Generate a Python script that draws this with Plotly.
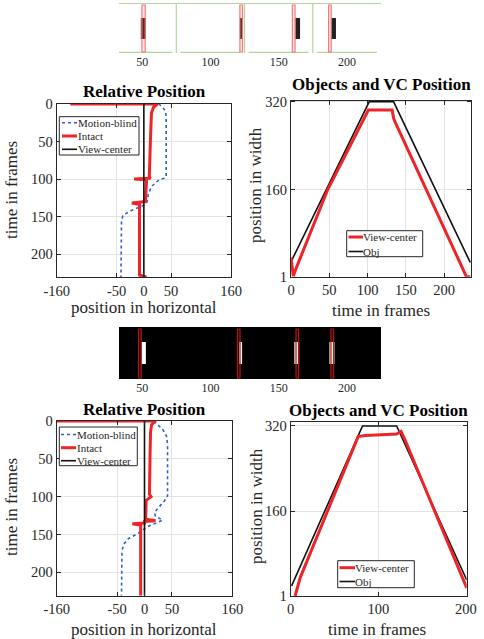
import plotly.graph_objects as go

W, H = 484, 639
FONT = "Liberation Serif, Times New Roman, serif"
RED = "#ee2428"
BLUE = "#2f5fc9"
BLACK = "#111111"
AX = "#262626"
GRID = "#e3e3e3"
GREEN = "#b3d59b"

# ---------------- data ----------------
strip_ticks = [50, 100, 150, 200]
strip_range = [33, 225]
s1_separators = [75, 125, 175]
# top strip (white frames): object boxes and view-center boxes
s1_obj_x0 = [49.0, 121.6, 162.2, 188.5]
s1_obj_x1 = [52.7, 123.5, 165.7, 192.0]
s1_vc_x0 = [49.8, 121.6, 160.0, 186.6]
s1_vc_x1 = [52.2, 123.5, 162.0, 188.5]
# bottom strip (black frames)
s2_obj_x0 = [49.3, 121.0, 161.5, 187.2]
s2_obj_x1 = [52.7, 123.2, 165.0, 190.9]
s2_vc_x0 = [47.3, 119.8, 162.7, 188.3]
s2_vc_x1 = [49.3, 121.7, 164.6, 190.3]

# Relative position, sequence 1 (x = horizontal position, t = frame)
rel1_intact_x = [-135, 25, 18, 14, 12, 10, 12, -18, 5, 3, -22, -8, -8, 5]
rel1_intact_t = [0, 0, 4, 12, 50, 97, 99, 100, 101, 130, 132, 134, 228, 231]
rel1_blind_x = [27, 33, 40, 41, 41, 38, 28, 14, 8, 6, 0, -20, -38, -41, -42]
rel1_blind_t = [0, 3, 10, 20, 97, 99, 101, 110, 121, 130, 135, 141, 148, 155, 231]
rel1_vc_x = [0, 0]
rel1_vc_t = [0, 231]

# Objects and VC position, sequence 1
pos1_vc_t = [0, 2, 3, 5, 10, 48, 100, 101, 132, 134, 136, 229, 234]
pos1_vc_y = [36, 10, 2, 10, 28, 160, 304, 305, 305, 290, 283, 1, 1]
pos1_obj_t = [0, 102, 134, 234]
pos1_obj_y = [28, 320, 320, 27]

# Relative position, sequence 2
rel2_intact_x = [-160, 20, 13, 11, 10, 9, 12, 3, 2, 20, 0, 0, -22, -7, -7]
rel2_intact_t = [0, 0, 5, 15, 50, 97, 100, 105, 130, 132, 133, 135, 136, 138, 231]
rel2_blind_x = [17, 24, 34, 40, 42, 42, 36, 26, 18, 20, 33, 5, -8, -30, -38, -41, -42]
rel2_blind_t = [0, 5, 12, 20, 30, 99, 106, 114, 121, 126, 131, 140, 147, 156, 163, 172, 231]
rel2_vc_x = [0, 0]
rel2_vc_t = [0, 231]

# Objects and VC position, sequence 2
pos2_vc_t = [5, 8, 11, 77, 85, 121, 124, 126, 130, 201]
pos2_vc_y = [1, 20, 36, 300, 302, 305, 309, 310, 296, 16]
pos2_obj_t = [1, 82, 121, 201]
pos2_obj_y = [20, 320, 320, 31]

rel_xticks = [-160, -50, 0, 50, 160]
rel_yticks = [0, 50, 100, 150, 200]
pos1_xticks = [0, 50, 100, 150, 200]
pos2_xticks = [0, 100, 200]
pos_yticks = [1, 160, 320]


# ---------------- helpers ----------------
def dx(a, b):
    return [a / W, b / W]


def dy(top, bottom):
    return [1 - bottom / H, 1 - top / H]


def px(x):
    return x / W


def py(y):
    return 1 - y / H


fig = go.Figure()

fig.add_trace(go.Scatter(x=rel1_blind_x, y=rel1_blind_t, mode="lines", name="Motion-blind",
                         line=dict(color=BLUE, width=1.6, dash="dot"), xaxis="x2", yaxis="y2"))
fig.add_trace(go.Scatter(x=rel1_intact_x, y=rel1_intact_t, mode="lines", name="Intact",
                         line=dict(color=RED, width=3), xaxis="x2", yaxis="y2"))
fig.add_trace(go.Scatter(x=rel1_vc_x, y=rel1_vc_t, mode="lines", name="View-center",
                         line=dict(color=BLACK, width=1.6), xaxis="x2", yaxis="y2"))

fig.add_trace(go.Scatter(x=pos1_obj_t, y=pos1_obj_y, mode="lines", name="Obj",
                         line=dict(color=BLACK, width=1.6), xaxis="x3", yaxis="y3"))
fig.add_trace(go.Scatter(x=pos1_vc_t, y=pos1_vc_y, mode="lines", name="View-center",
                         line=dict(color=RED, width=3), xaxis="x3", yaxis="y3"))

fig.add_trace(go.Scatter(x=rel2_blind_x, y=rel2_blind_t, mode="lines", name="Motion-blind",
                         line=dict(color=BLUE, width=1.6, dash="dot"), xaxis="x5", yaxis="y5"))
fig.add_trace(go.Scatter(x=rel2_intact_x, y=rel2_intact_t, mode="lines", name="Intact",
                         line=dict(color=RED, width=3), xaxis="x5", yaxis="y5"))
fig.add_trace(go.Scatter(x=rel2_vc_x, y=rel2_vc_t, mode="lines", name="View-center",
                         line=dict(color=BLACK, width=1.6), xaxis="x5", yaxis="y5"))

fig.add_trace(go.Scatter(x=pos2_obj_t, y=pos2_obj_y, mode="lines", name="Obj",
                         line=dict(color=BLACK, width=1.6), xaxis="x6", yaxis="y6"))
fig.add_trace(go.Scatter(x=pos2_vc_t, y=pos2_vc_y, mode="lines", name="View-center",
                         line=dict(color=RED, width=3), xaxis="x6", yaxis="y6"))

fig.add_trace(go.Scatter(x=[strip_ticks[0]], y=[25], mode="markers", marker=dict(opacity=0),
                         showlegend=False, hoverinfo="skip", xaxis="x", yaxis="y"))
fig.add_trace(go.Scatter(x=[strip_ticks[0]], y=[25], mode="markers", marker=dict(opacity=0),
                         showlegend=False, hoverinfo="skip", xaxis="x4", yaxis="y4"))

shapes = []
# ---- top strip: frame borders ----
shapes.append(dict(type="line", xref="x", yref="y", x0=strip_range[0], x1=strip_range[1],
                   y0=0.5, y1=0.5, line=dict(color=GREEN, width=1)))
for s in s1_separators:
    shapes.append(dict(type="line", xref="x", yref="y", x0=s, x1=s, y0=0.5, y1=50,
                       line=dict(color=GREEN, width=1.2)))
edges = [strip_range[0]] + s1_separators + [strip_range[1]]
for k in range(4):
    a = edges[k] + (0 if k == 0 else 3)
    b = edges[k + 1] - 3
    shapes.append(dict(type="line", xref="x", yref="y", x0=a, x1=b, y0=50, y1=50,
                       line=dict(color=GREEN, width=2.5)))
for a, b in zip(s1_obj_x0, s1_obj_x1):
    c = "#3a1515" if a < 130 else "#222222"
    shapes.append(dict(type="rect", xref="x", yref="y", x0=a, x1=b, y0=15, y1=36,
                       line=dict(width=0), fillcolor=c))
for a, b in zip(s1_vc_x0, s1_vc_x1):
    shapes.append(dict(type="rect", xref="x", yref="y", x0=a, x1=b, y0=2, y1=49,
                       line=dict(color="#f07a7a", width=1.2), fillcolor="rgba(255,120,120,0.15)"))

# ---- bottom strip ----
shapes.append(dict(type="rect", xref="x4 domain", yref="y4 domain", x0=0, x1=1, y0=0, y1=1,
                   line=dict(width=0), fillcolor="black", layer="below"))
for a, b in zip(s2_obj_x0, s2_obj_x1):
    shapes.append(dict(type="rect", xref="x4", yref="y4", x0=a, x1=b, y0=15, y1=37,
                       line=dict(width=0), fillcolor="white"))
for a, b in zip(s2_vc_x0, s2_vc_x1):
    shapes.append(dict(type="rect", xref="x4", yref="y4", x0=a, x1=b, y0=2, y1=51,
                       line=dict(color="#b01414", width=1.2), fillcolor="rgba(255,80,80,0.12)"))

annotations = []


def legend(box, entries, line_x, text_x, ys):
    l, t, r, b = box
    shapes.append(dict(type="rect", xref="paper", yref="paper", x0=px(l), x1=px(r), y0=py(b), y1=py(t),
                       line=dict(color=AX, width=1), fillcolor="white", layer="above"))
    for (name, color, width, dash), yy in zip(entries, ys):
        shapes.append(dict(type="line", xref="paper", yref="paper", x0=px(line_x[0]), x1=px(line_x[1]),
                           y0=py(yy), y1=py(yy), line=dict(color=color, width=width, dash=dash),
                           layer="above"))
        annotations.append(dict(xref="paper", yref="paper", x=px(text_x), y=py(yy), text=name,
                                showarrow=False, xanchor="left", yanchor="middle", borderpad=0,
                                font=dict(family=FONT, size=11, color=AX)))


rel_entries = [("Motion-blind", BLUE, 1.6, "dot"), ("Intact", RED, 3, "solid"),
               ("View-center", BLACK, 1.6, "solid")]
pos_entries = [("View-center", RED, 3, "solid"), ("Obj", BLACK, 1.6, "solid")]
legend((59.3, 116.7, 139, 155), rel_entries, (62, 77), 76.5, [122.7, 136, 149.3])
legend((59.3, 427, 137.3, 465.7), rel_entries, (61, 76), 75.5, [434.5, 447.7, 460.7])
legend((346.7, 230.7, 422.7, 256.7), pos_entries, (348.5, 363), 362.3, [237, 251.5])
legend((337.7, 560.7, 414.3, 587.7), pos_entries, (339.5, 355), 354.3, [567.7, 581.5])


def text(x, y, s, size=17, bold=False, angle=0, color=AX):
    annotations.append(dict(xref="paper", yref="paper", x=px(x), y=py(y),
                            text=("<b>%s</b>" % s) if bold else s, showarrow=False,
                            xanchor="center", yanchor="middle", textangle=angle, borderpad=0,
                            font=dict(family=FONT, size=size, color=color)))


text(144, 91, "Relative Position", 17, True, color="black")
text(381, 84, "Objects and VC Position", 17, True, color="black")
text(144, 409, "Relative Position", 17, True, color="black")
text(378, 410, "Objects and VC Position", 17, True, color="black")
text(11, 190, "time in frames", angle=-90)
text(11, 507, "time in frames", angle=-90)
text(256, 185, "position in width", angle=-90)
text(256, 506, "position in width", angle=-90)
text(144, 307, "position in horizontal")
text(144, 629, "position in horizontal")
text(381, 310, "time in frames")
text(377, 629, "time in frames")


def main_axis(domain, rng, ticks, anchor, side):
    return dict(domain=domain, range=rng, tickvals=ticks, ticktext=[str(v) for v in ticks],
                anchor=anchor, showline=True, linecolor=AX, linewidth=1, mirror="ticks",
                ticks="inside", ticklen=4, tickcolor=AX, showgrid=True, gridcolor=GRID,
                gridwidth=1, zeroline=False, side=side, automargin=False,
                tickfont=dict(family=FONT, size=14.5, color=AX))


def strip_axis(domain, anchor):
    return dict(domain=domain, range=strip_range, tickvals=strip_ticks, anchor=anchor,
                showline=False, showgrid=False, zeroline=False, ticks="", automargin=False,
                tickfont=dict(family=FONT, size=12, color=AX))


def hidden_y(domain, rng, anchor):
    return dict(domain=domain, range=rng, anchor=anchor, visible=False, automargin=False)


fig.update_layout(
    width=W, height=H, margin=dict(l=0, r=0, t=0, b=0, pad=0), autosize=False,
    paper_bgcolor="white", plot_bgcolor="white", showlegend=False,
    font=dict(family=FONT, color=AX),
    xaxis=strip_axis(dx(119, 381), "y"),
    yaxis=hidden_y(dy(3, 53), [50, 0], "x"),
    xaxis4=strip_axis(dx(119, 381), "y4"),
    yaxis4=hidden_y(dy(327, 379), [52, 0], "x4"),
    xaxis2=main_axis(dx(56.7, 231), [-160, 160], rel_xticks, "y2", "bottom"),
    yaxis2=main_axis(dy(104, 277.3), [231, 0], rel_yticks, "x2", "left"),
    xaxis3=main_axis(dx(291, 471), [0, 235], pos1_xticks, "y3", "bottom"),
    yaxis3=main_axis(dy(100.7, 276.7), [1, 322], pos_yticks, "x3", "left"),
    xaxis5=main_axis(dx(56.7, 232.3), [-160, 160], rel_xticks, "y5", "bottom"),
    yaxis5=main_axis(dy(421, 595.7), [231, 0], rel_yticks, "x5", "left"),
    xaxis6=main_axis(dx(290.7, 466.7), [0, 201], pos2_xticks, "y6", "bottom"),
    yaxis6=main_axis(dy(421.7, 596), [1, 328], pos_yticks, "x6", "left"),
    shapes=shapes, annotations=annotations,
)

fig.write_html("out.html", config={"displayModeBar": False},
               post_script="document.body.style.margin='0px';document.body.style.overflow='hidden';")
